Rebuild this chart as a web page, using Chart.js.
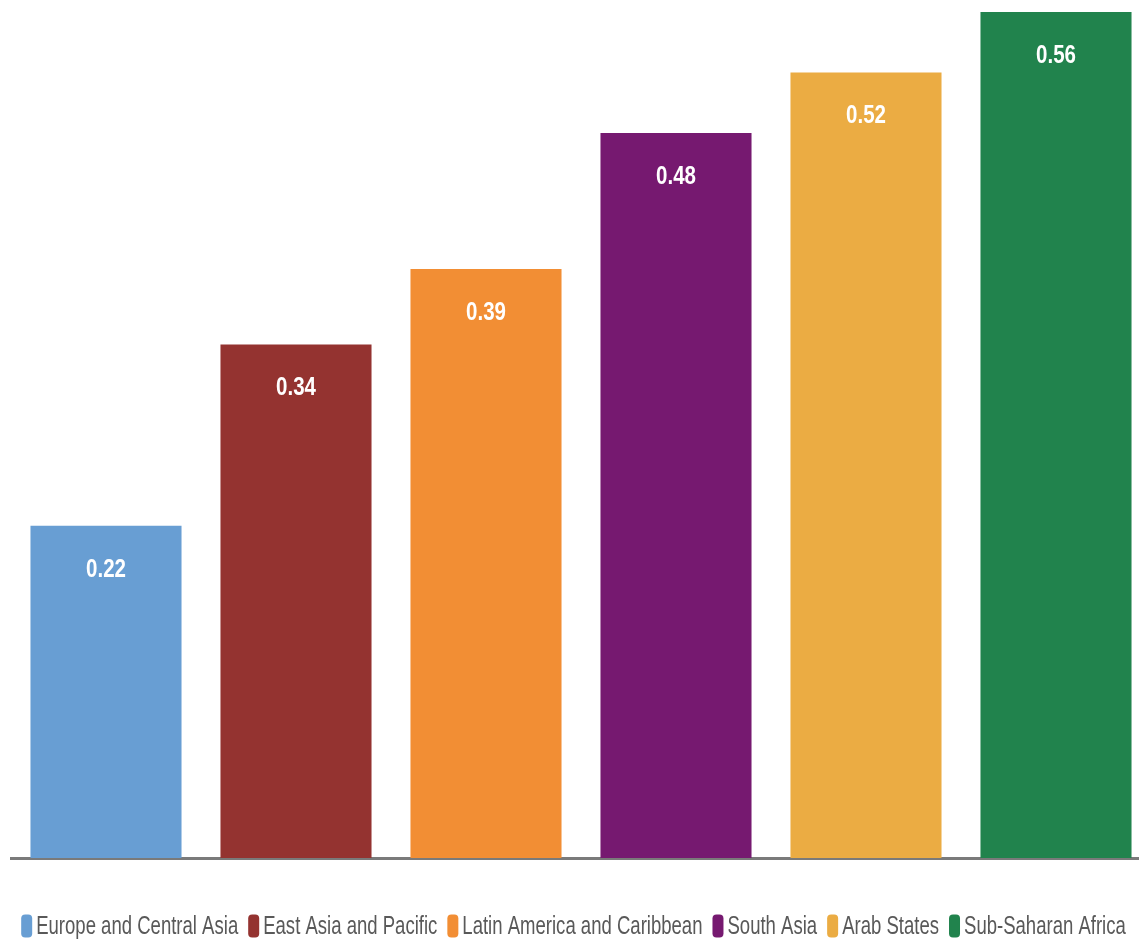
<!DOCTYPE html>
<html>
<head>
<meta charset="utf-8">
<script src="https://cdn.jsdelivr.net/npm/chart.js@4/dist/chart.umd.min.js"></script>
<style>
  html, body { margin: 0; padding: 0; background: #fff; overflow: hidden; }
  #wrap { width: 1151px; height: 942px; position: relative; }
</style>
</head>
<body>
<div id="wrap"><canvas id="regionChart"></canvas></div>
<script>
// -------------------------------
// Data --------------------------
// -------------------------------
const regions = [
  "Europe and Central Asia",
  "East Asia and Pacific",
  "Latin America and Caribbean",
  "South Asia",
  "Arab States",
  "Sub-Saharan Africa",
];
const values = [0.22, 0.34, 0.39, 0.48, 0.52, 0.56];
const barColors = ["#689ed3", "#943330", "#f28e34", "#761970", "#ebac43", "#21834d"];

const labelFont = "'Liberation Sans', Arial, sans-serif";

// draw text squeezed horizontally to fake a condensed face
function narrowText(ctx, text, x, y, squeeze) {
  ctx.save();
  ctx.translate(x, y);
  ctx.scale(squeeze, 1);
  ctx.fillText(text, 0, 0);
  ctx.restore();
}

// value printed inside the top of each bar
const barValueLabels = {
  id: "barValueLabels",
  afterDatasetsDraw(chart) {
    const ctx = chart.ctx;
    const meta = chart.getDatasetMeta(0);
    ctx.save();
    ctx.font = "bold 25px " + labelFont;
    ctx.fillStyle = "#ffffff";
    ctx.textAlign = "center";
    ctx.textBaseline = "middle";
    meta.data.forEach((bar, i) => {
      narrowText(ctx, values[i].toFixed(2), bar.x, bar.y + 44, 0.82);
    });
    ctx.restore();
  },
};

// condensed legend row under the axis
const regionLegend = {
  id: "regionLegend",
  afterDraw(chart) {
    const ctx = chart.ctx;
    const boxW = 11, boxH = 23, textGap = 4, itemGap = 10;
    const centerX = 573.5, centerY = 926;
    ctx.save();
    ctx.font = "25px " + labelFont;
    const squeeze = 202 / ctx.measureText(regions[0]).width;
    const widths = regions.map((r) => ctx.measureText(r).width * squeeze);
    const total = widths.reduce((a, w) => a + boxW + textGap + w, 0) + itemGap * (regions.length - 1);
    let x = centerX - total / 2;
    regions.forEach((r, i) => {
      ctx.fillStyle = barColors[i];
      ctx.beginPath();
      ctx.roundRect(x, centerY - boxH / 2, boxW, boxH, 4);
      ctx.fill();
      x += boxW + textGap;
      ctx.fillStyle = "#595959";
      ctx.textBaseline = "middle";
      narrowText(ctx, r, x, centerY + 1, squeeze);
      x += widths[i] + itemGap;
    });
    ctx.restore();
  },
};

// -------------------------------
// Bar Chart ---------------------
// -------------------------------
const ctx = document.getElementById("regionChart").getContext("2d");
const regionChart = new Chart(ctx, {
  type: "bar",
  data: {
    labels: regions,
    datasets: [
      {
        data: values,
        backgroundColor: barColors,
        barPercentage: 0.795,
        categoryPercentage: 1,
      },
    ],
  },
  options: {
    responsive: true,
    maintainAspectRatio: false,
    animation: false,
    layout: { padding: { top: 0, left: 11, right: 0, bottom: 76 } },
    plugins: {
      legend: { display: false },
      tooltip: { enabled: false },
    },
    scales: {
      x: {
        grid: { display: false },
        ticks: { display: false },
        border: { color: "#7a7a7a", width: 3 },
      },
      y: {
        display: false,
        min: 0,
        max: 0.568,
      },
    },
  },
  plugins: [barValueLabels, regionLegend],
});
</script>
</body>
</html>
